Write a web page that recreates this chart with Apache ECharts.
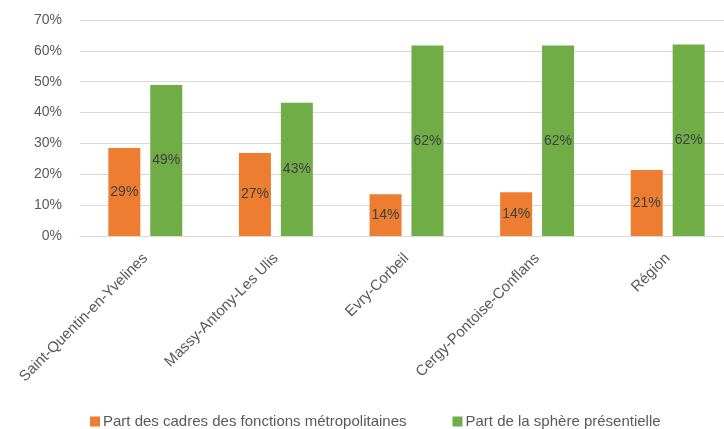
<!DOCTYPE html>
<html>
<head>
<meta charset="utf-8">
<script src="https://cdn.jsdelivr.net/npm/echarts@6/dist/echarts.min.js"></script>
<style>
  * { margin: 0; padding: 0; }
  html, body { background: #fff; overflow: hidden; width: 724px; height: 429px; }
</style>
</head>
<body>
<!-- conteneur du graphique, un peu plus large que la fenêtre : la grille déborde à droite comme dans l'original -->
<div id="main" style="width: 736px; height: 429px;"></div>
<script>
  var categories = ['Saint-Quentin-en-Yvelines', 'Massy-Antony-Les Ulis', 'Evry-Corbeil', 'Cergy-Pontoise-Conflans', 'Région'];
  var cadres = [28.5, 26.9, 13.5, 14.2, 21.4];
  var presentielle = [48.9, 43.2, 61.7, 61.7, 62.1];
  var seriesNames = ['Part des cadres des fonctions métropolitaines', 'Part de la sphère présentielle'];

  var font = 'Liberation Sans, Arial, sans-serif';

  function barLabel() {
    return {
      show: true,
      position: 'inside',
      color: '#404040',
      fontFamily: font,
      fontSize: 14,
      formatter: function (p) { return Math.round(p.value) + '%'; }
    };
  }

  var chart = echarts.init(document.getElementById('main'));
  chart.setOption({
    animation: false,
    textStyle: { fontFamily: font },
    grid: { left: 80, top: 20, width: 653, height: 216 },
    legend: {
      data: seriesNames,
      top: 414,
      left: 90,
      padding: 0,
      itemWidth: 10,
      itemHeight: 10,
      itemGap: 46,
      icon: 'rect',
      textStyle: { color: '#595959', fontSize: 15, fontFamily: font, padding: [0, 0, 0, -2] }
    },
    xAxis: {
      type: 'category',
      data: categories,
      axisTick: { show: false },
      axisLine: { lineStyle: { color: '#d9d9d9' } },
      axisLabel: {
        rotate: 45,
        interval: 0,
        margin: 20,
        color: '#595959',
        fontSize: 15,
        fontFamily: font
      }
    },
    yAxis: {
      type: 'value',
      min: 0,
      max: 70,
      interval: 10,
      axisLine: { show: false },
      axisTick: { show: false },
      splitLine: { lineStyle: { color: '#d9d9d9' } },
      axisLabel: {
        formatter: '{value}%',
        margin: 18,
        color: '#595959',
        fontSize: 14,
        fontFamily: font
      }
    },
    series: [
      {
        name: seriesNames[0],
        type: 'bar',
        data: cadres,
        barWidth: 32,
        barGap: '31%',
        itemStyle: { color: '#ED7D31' },
        label: barLabel()
      },
      {
        name: seriesNames[1],
        type: 'bar',
        data: presentielle,
        barWidth: 32,
        itemStyle: { color: '#70AD47' },
        label: barLabel()
      }
    ]
  });
</script>
</body>
</html>
